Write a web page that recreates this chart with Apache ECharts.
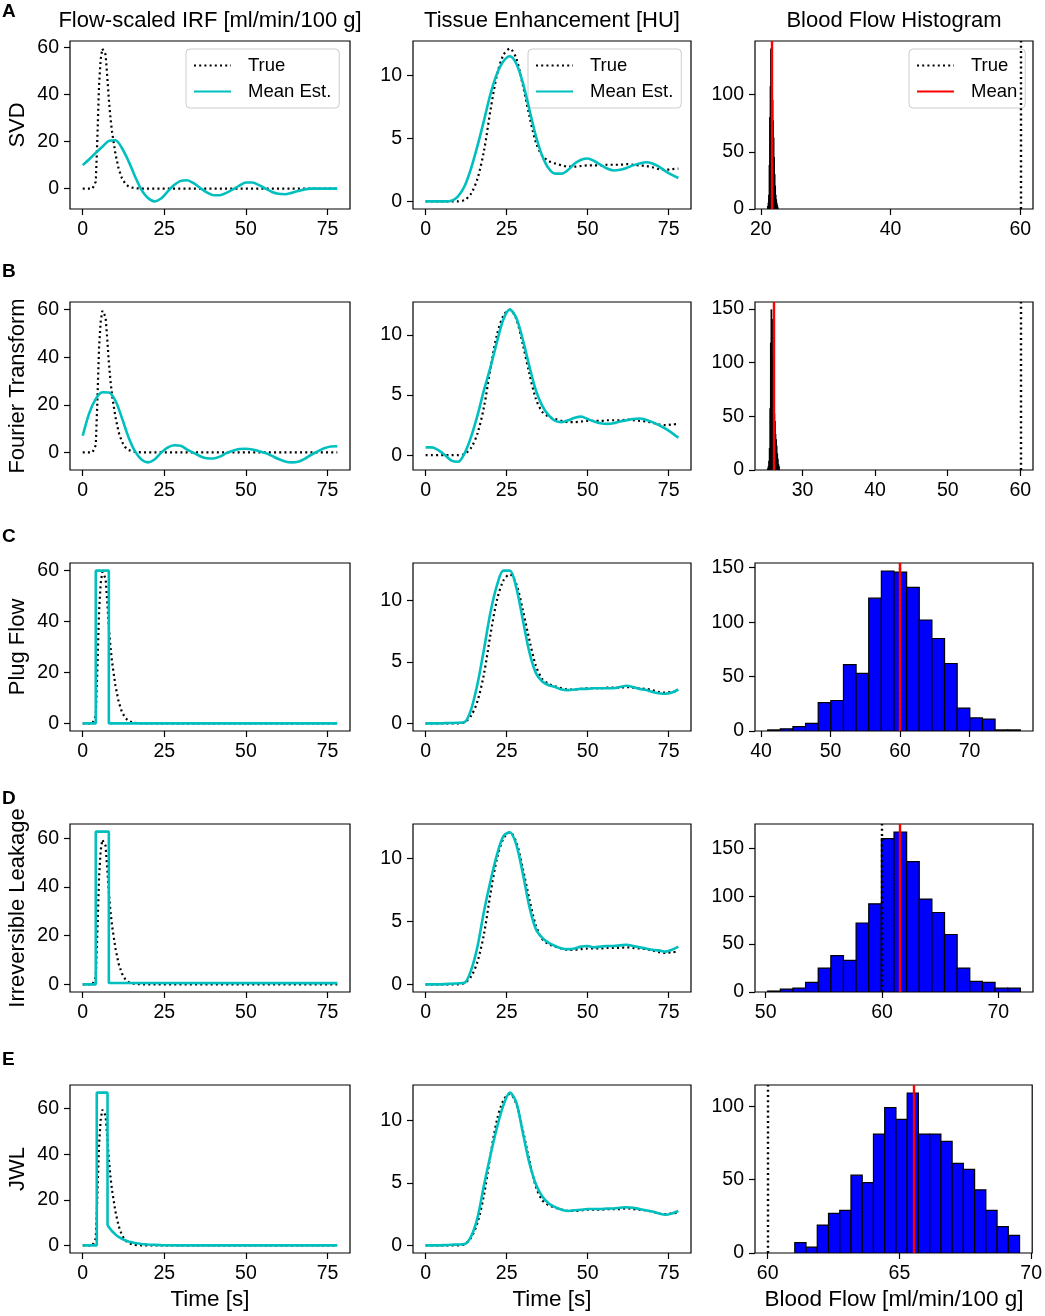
<!DOCTYPE html>
<html><head><meta charset="utf-8">
<script src="https://cdn.jsdelivr.net/npm/echarts@6/dist/echarts.min.js"></script>
<style>html,body{margin:0;padding:0;background:#fff}#c{width:1045px;height:1316px}</style>
</head><body><div id="c"></div>
<script>
const FONT = "'Liberation Sans', Arial, Helvetica, sans-serif";
const rowNames = ['SVD', 'Fourier Transform', 'Plug Flow', 'Irreversible Leakage', 'JWL'];
const rowLetters = ['A', 'B', 'C', 'D', 'E'];
const colTitles = ['Flow-scaled IRF [ml/min/100 g]', 'Tissue Enhancement [HU]', 'Blood Flow Histogram'];
const xNames = ['Time [s]', 'Time [s]', 'Blood Flow [ml/min/100 g]'];
const legendIRF = ['True', 'Mean Est.'];
const legendHist = ['True', 'Mean'];

const timeTicks = [0, 25, 50, 75];
const irfTicks = [0, 20, 40, 60];
const tissueTicks = [0, 5, 10];
const histXTicks = [[20, 40, 60], [30, 40, 50, 60], [40, 50, 60, 70], [50, 60, 70], [60, 65, 70]];
const histYTicks = [[0, 50, 100], [0, 50, 100, 150], [0, 50, 100, 150], [0, 50, 100, 150], [0, 50, 100]];

// time samples (s)
const time2 = [0,2,4,6,8,10,12,14,16,18,20,22,24,26,28,30,32,34,36,38,40,42,44,46,48,50,52,54,56,58,60,62,64,66,68,70,72,74,76,78];

// true flow-scaled IRF
const irfTrueT = [0,1,2,3,3.5,4,4.5,5,5.5,6,6.5,7,7.5,8,8.5,9,10,11,12,13,14,15,16,18,20,40,60,78];
const irfTrueV = [0,0,0,0,0.2,3,22,44,55,59.5,60,57,48,38,30,24,15,8.5,4.5,2.2,1,0.5,0.2,0,0,0,0,0];

// mean estimated IRFs
const irfEstA = [10,12.5,15.2,17.8,20.3,20.6,17.3,11.8,5.3,-0.5,-4,-5.4,-4.2,-1.3,1.5,3.3,3.6,2.3,0.3,-1.6,-2.8,-2.8,-1.8,-0.3,1.3,2.6,2.6,1.5,0,-1.4,-2.2,-2.4,-1.8,-1,-0.3,0,0,0,0,0];
const irfEstB = [7,16.5,22.5,25.3,25.2,21.8,14.5,6.5,0.5,-3,-4.2,-3,-0.2,2,3,2.8,1.2,-0.2,-1.6,-2.5,-2.6,-1.8,-0.3,0.7,1.4,1.5,1.2,0.5,-0.3,-1.5,-2.8,-3.8,-4.2,-3.9,-2.7,-1,0.4,1.7,2.5,2.6];
const irfEstCT = [0,4,4,8,8,78];
const irfEstCV = [0,0,60,60,0,0];
const irfEstDT = [0,4,4,8,8,78];
const irfEstDV = [0,0,62.8,62.8,0.6,0.5];
const irfEstET = [0,4.3,4.3,7.6,7.6,8,9,10,11,12,13,14,16,18,20,24,30,78];
const irfEstEV = [0,0,67,67,9,8,6.2,4.8,3.7,2.9,2.2,1.7,1,0.6,0.35,0.1,0,0];

// tissue enhancement
const tissueTrue = [0,0,0,0,0,0,0.1,0.6,1.8,4,7.2,10,11.6,12.1,11.3,9.2,6.8,4.7,3.6,3.2,3,2.85,2.75,2.75,2.8,2.85,2.85,2.85,2.9,2.9,2.9,2.95,2.9,2.85,2.8,2.7,2.55,2.5,2.55,2.6];
const tissueEstA = [0,0,0,0,0.05,0.4,1.2,2.6,4.4,6.4,8.5,10.1,11.1,11.5,10.9,9.4,7.3,5.2,3.6,2.6,2.2,2.2,2.5,3,3.3,3.4,3.2,2.9,2.6,2.45,2.5,2.65,2.85,3,3.1,3,2.75,2.4,2.1,1.85];
const tissueEstB = [0.65,0.65,0.4,0,-0.45,-0.55,0.15,1.5,3.3,5.4,7.3,9.4,11.3,12.1,11.4,9.6,7.4,5.4,4.1,3.3,2.85,2.75,2.9,3.1,3.2,3,2.8,2.65,2.6,2.65,2.8,2.9,3,3.05,2.95,2.75,2.5,2.2,1.85,1.45];
const tissueEstC = [0,0,0,0.02,0.03,0.05,0.1,1.1,3.2,6,9,11.2,12.4,12.4,11,8.4,5.8,4.1,3.4,3.1,2.95,2.75,2.7,2.75,2.8,2.8,2.85,2.85,2.85,2.85,2.95,3.05,2.95,2.8,2.7,2.55,2.45,2.4,2.5,2.75];
const tissueEstD = [0,0,0,0.02,0.05,0.08,0.12,1.1,3,5.8,8.2,10.3,11.8,12.1,11.1,8.8,6.2,4.4,3.7,3.3,3.05,2.85,2.8,2.85,3,3.05,2.95,3,3.05,3.05,3.1,3.15,3.05,2.95,2.85,2.75,2.7,2.6,2.75,3];
const tissueEstE = [0,0,0,0.02,0.05,0.07,0.1,0.7,2.2,4.8,7.2,9.4,11.2,12.2,11.4,9,6.6,4.9,3.9,3.35,3.05,2.85,2.75,2.8,2.85,2.9,2.9,2.9,2.95,2.95,3,3.05,3,2.9,2.8,2.7,2.55,2.45,2.55,2.75];

// blood flow histograms (20 bins each)
const histLo = [21.05, 25.2, 40.96, 50.17, 61.03];
const histHi = [22.65, 26.8, 77.3, 71.89, 69.56];
const countsA = [2,5,12,38,80,107,140,138,120,95,77,62,45,30,20,12,8,5,3,1];
const countsB = [1,3,8,20,57,118,149,140,107,90,70,52,45,33,28,22,15,10,5,3];
const countsC = [1,2,4,7,26,28,61,53,122,147,146,132,102,85,62,21,12,11,1,1];
const countsD = [1,3,4,10,25,38,33,72,92,160,167,136,97,83,60,25,11,10,4,4];
const countsE = [7,4,19,27,29,53,48,81,99,91,109,81,81,76,61,57,43,29,18,12];
const meanFlow = [21.7, 26.0, 59.95, 61.55, 65.56];
const trueFlow = 60;

// ---------- layout ----------
const colLeft = [70, 413, 755];
const colWidth = [280, 278, 278];
const rowTop = [41, 302, 563, 824, 1085];
const rowH = 168;
const letterY = [12, 272, 537, 799, 1060];
const timeRange = [-3.9, 81.9];
const irfY = [[-8.65, 62.75], [-7.41, 63.21], [-3, 63], [-3.14, 65.94], [-3.35, 70.35]];
const tisY = [[-0.605, 12.705], [-1.235, 12.735], [-0.62, 13.02], [-0.61, 12.76], [-0.61, 12.81]];
const histX = [[19.1, 61.95], [23.46, 61.74], [39.14, 79.12], [49.08, 72.98], [59.52, 70.04]];
const histY = [[0, 147], [0, 156.4], [0, 154.35], [0, 175.35], [0, 114.45]];

const CYAN = '#00bfbf';
const DOT = [2, 3.2];

const irfEst = [
  time2.map((t, i) => [t, irfEstA[i]]),
  time2.map((t, i) => [t, irfEstB[i]]),
  irfEstCT.map((t, i) => [t, irfEstCV[i]]),
  irfEstDT.map((t, i) => [t, irfEstDV[i]]),
  irfEstET.map((t, i) => [t, irfEstEV[i]])
];
const tissueEst = [tissueEstA, tissueEstB, tissueEstC, tissueEstD, tissueEstE];
const counts = [countsA, countsB, countsC, countsD, countsE];
const irfTrue = irfTrueT.map((t, i) => [t, irfTrueV[i]]);
const tisTrue = time2.map((t, i) => [t, tissueTrue[i]]);

function histData(r) {
  const n = counts[r].length, w = (histHi[r] - histLo[r]) / n;
  return counts[r].map((c, i) => [histLo[r] + i * w, histLo[r] + (i + 1) * w, c]);
}

function axis(gi, range, ticks) {
  return {
    type: 'value', gridIndex: gi, min: range[0], max: range[1],
    axisLine: { show: false, onZero: false },
    splitLine: { show: false },
    axisTick: { show: true, length: 6, lineStyle: { color: '#000', width: 1.2 }, customValues: ticks },
    axisLabel: { customValues: ticks, color: '#000', fontSize: 19.5, fontFamily: FONT, margin: 11 }
  };
}

const grids = [], xAxes = [], yAxes = [], series = [];
for (let r = 0; r < 5; r++) {
  for (let c = 0; c < 3; c++) {
    const gi = r * 3 + c;
    grids.push({ left: colLeft[c], top: rowTop[r], width: colWidth[c], height: rowH,
      show: true, borderColor: '#000', borderWidth: 1.2, backgroundColor: 'transparent' });
    if (c === 0) {
      xAxes.push(axis(gi, timeRange, timeTicks));
      yAxes.push(axis(gi, irfY[r], irfTicks));
      series.push({ type: 'line', name: 'True', xAxisIndex: gi, yAxisIndex: gi, data: irfTrue,
        symbol: 'none', lineStyle: { color: '#000', width: 2.2, type: DOT }, itemStyle: { color: '#000' }, z: 3 });
      series.push({ type: 'line', name: 'Mean Est.', xAxisIndex: gi, yAxisIndex: gi, data: irfEst[r],
        symbol: 'none', smooth: r < 2 ? 0.3 : false,
        lineStyle: { color: CYAN, width: 2.6 }, itemStyle: { color: CYAN }, z: 4 });
    } else if (c === 1) {
      xAxes.push(axis(gi, timeRange, timeTicks));
      yAxes.push(axis(gi, tisY[r], tissueTicks));
      series.push({ type: 'line', name: 'True', xAxisIndex: gi, yAxisIndex: gi, data: tisTrue,
        symbol: 'none', smooth: 0.3, lineStyle: { color: '#000', width: 2.2, type: DOT }, itemStyle: { color: '#000' }, z: 3 });
      series.push({ type: 'line', name: 'Mean Est.', xAxisIndex: gi, yAxisIndex: gi,
        data: time2.map((t, i) => [t, tissueEst[r][i]]),
        symbol: 'none', smooth: 0.3, lineStyle: { color: CYAN, width: 2.6 }, itemStyle: { color: CYAN }, z: 4 });
    } else {
      xAxes.push(axis(gi, histX[r], histXTicks[r]));
      yAxes.push(axis(gi, histY[r], histYTicks[r]));
      series.push({ type: 'custom', name: 'hist', xAxisIndex: gi, yAxisIndex: gi, data: histData(r),
        encode: { x: [0, 1], y: 2 }, clip: true, z: 2,
        renderItem: function (params, api) {
          const p0 = api.coord([api.value(0), api.value(2)]);
          const p1 = api.coord([api.value(1), 0]);
          return { type: 'rect', shape: { x: p0[0], y: p0[1], width: p1[0] - p0[0], height: p1[1] - p0[1] },
            style: { fill: '#0000ff', stroke: '#000', lineWidth: 1.2 } };
        } });
      series.push({ type: 'line', name: 'True', xAxisIndex: gi, yAxisIndex: gi, data: [],
        symbol: 'none', lineStyle: { color: '#000', width: 2.2, type: DOT }, itemStyle: { color: '#000' }, z: 5,
        markLine: { silent: true, symbol: ['none', 'none'], label: { show: false }, animation: false,
          lineStyle: { color: '#000', width: 2.4, type: DOT }, data: [{ xAxis: trueFlow }] } });
      series.push({ type: 'line', name: 'Mean', xAxisIndex: gi, yAxisIndex: gi, data: [],
        symbol: 'none', lineStyle: { color: '#ff0000', width: 2.4 }, itemStyle: { color: '#ff0000' }, z: 6,
        markLine: { silent: true, symbol: ['none', 'none'], label: { show: false }, animation: false,
          lineStyle: { color: '#ff0000', width: 2.4, type: 'solid' }, data: [{ xAxis: meanFlow[r] }] } });
    }
  }
}

function legend(left, names) {
  return { left: left, top: 49, orient: 'vertical', data: names, selectedMode: false,
    padding: [7, 8, 7, 7], itemGap: 7, itemWidth: 37, itemHeight: 18,
    itemStyle: { opacity: 0 },
    backgroundColor: 'rgba(255,255,255,0.8)', borderColor: '#cccccc', borderWidth: 1, borderRadius: 4,
    textStyle: { fontSize: 18.5, fontFamily: FONT, color: '#000', lineHeight: 18, padding: [0, 0, 0, 12] } };
}

const graphics = [];
const colCenter = colLeft.map((l, i) => l + colWidth[i] / 2);
colTitles.forEach((t, i) => graphics.push({ type: 'text', x: colCenter[i], y: 21,
  style: { text: t, font: '22px ' + FONT, fill: '#000', textAlign: 'center', textVerticalAlign: 'middle' } }));
xNames.forEach((t, i) => graphics.push({ type: 'text', x: colCenter[i], y: 1300,
  style: { text: t, font: '22.5px ' + FONT, fill: '#000', textAlign: 'center', textVerticalAlign: 'middle' } }));
rowLetters.forEach((t, i) => graphics.push({ type: 'text', x: 2, y: letterY[i],
  style: { text: t, font: 'bold 19px ' + FONT, fill: '#000', textAlign: 'left', textVerticalAlign: 'middle' } }));
rowNames.forEach((t, i) => graphics.push({ type: 'text', x: 18, y: rowTop[i] + rowH / 2, rotation: Math.PI / 2,
  style: { text: t, font: '22px ' + FONT, fill: '#000', textAlign: 'center', textVerticalAlign: 'middle' } }));

const chart = echarts.init(document.getElementById('c'), null, { renderer: 'canvas' });
chart.setOption({
  animation: false,
  backgroundColor: '#fff',
  grid: grids, xAxis: xAxes, yAxis: yAxes, series: series,
  legend: [legend(186, legendIRF), legend(528, legendIRF), legend(909, legendHist)],
  graphic: graphics
});
</script></body></html>
